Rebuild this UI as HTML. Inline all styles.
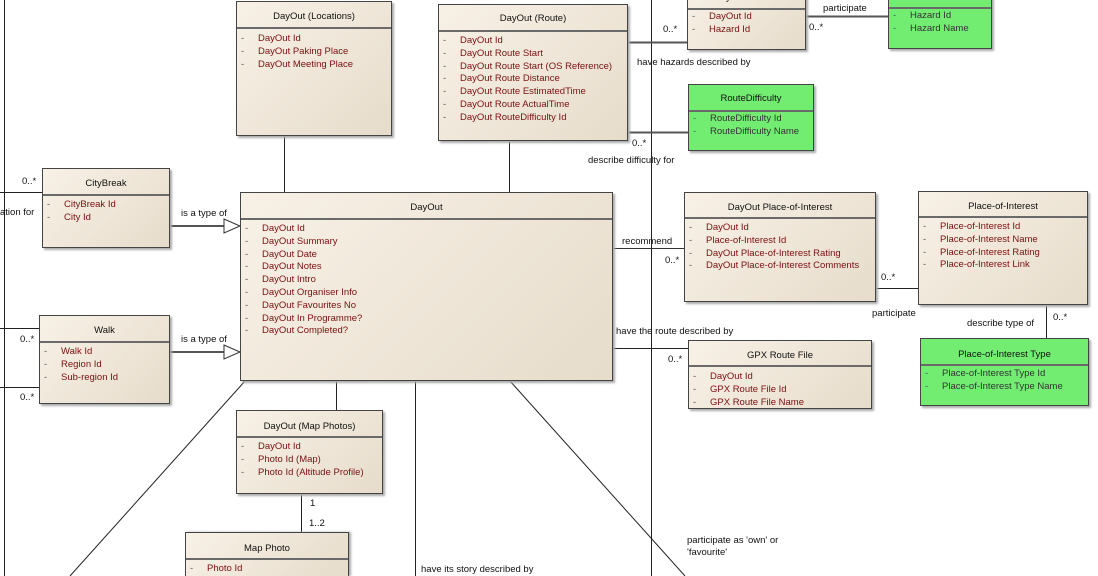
<!DOCTYPE html>
<html style="overflow:hidden;width:1098px;height:576px"><head><meta charset="utf-8"><style>
body{margin:0;width:1098px;height:576px;overflow:hidden;background:#fff;font-family:"Liberation Sans",sans-serif;font-size:9.5px;position:relative}
.b{position:absolute;border:1px solid #444;background:linear-gradient(135deg,#f8f1e6,#e6dccb);box-shadow:2px 2px 2px #aaa;box-sizing:border-box;overflow:hidden}
.g{background:#72ed72}
.t{text-align:center;color:#111;border-bottom:2px solid #6a6a6a;box-sizing:border-box}
.i{position:relative;color:#7a1010;padding-left:21px;line-height:12.8px;white-space:nowrap}
.g .i{color:#333}
.i:before{content:"-";position:absolute;left:4px;color:#555}
.l{position:absolute;color:#111;white-space:nowrap;font-size:9.5px}
svg{position:absolute;left:0;top:0}
</style></head><body>
<svg width="1098" height="576" stroke="#222" stroke-width="1" fill="none">
<line x1="4.5" y1="0" x2="4.5" y2="576"/>
<line x1="0" y1="192.5" x2="42" y2="192.5"/>
<line x1="0" y1="328.5" x2="39" y2="328.5"/>
<line x1="0" y1="387.5" x2="39" y2="387.5"/>
<line x1="651.5" y1="0" x2="651.5" y2="576"/>
<line x1="284.5" y1="136" x2="284.5" y2="192"/>
<line x1="509.5" y1="141" x2="509.5" y2="192"/>
<line x1="628" y1="42.5" x2="687" y2="42.5" stroke="#555" stroke-width="2"/>
<line x1="628" y1="132.5" x2="688" y2="132.5" stroke="#555" stroke-width="2"/>
<line x1="806" y1="16.5" x2="888" y2="16.5" stroke="#555" stroke-width="2"/>
<line x1="170" y1="226" x2="224" y2="226" stroke="#555" stroke-width="2"/>
<polygon points="224,219 240,226 224,233" fill="#fff" stroke="#333"/>
<line x1="170" y1="352" x2="224" y2="352" stroke="#555" stroke-width="2"/>
<polygon points="224,345 240,352 224,359" fill="#fff" stroke="#333"/>
<line x1="613" y1="248.5" x2="684" y2="248.5" stroke="#333"/>
<line x1="876" y1="288.5" x2="918" y2="288.5"/>
<line x1="1046.5" y1="305" x2="1046.5" y2="338"/>
<line x1="613" y1="348.5" x2="688" y2="348.5"/>
<line x1="336.5" y1="381" x2="336.5" y2="410"/>
<line x1="301.5" y1="494" x2="301.5" y2="532"/>
<line x1="415.5" y1="381" x2="415.5" y2="576"/>
<line x1="245" y1="381" x2="70" y2="576"/>
<line x1="510" y1="381" x2="685" y2="576"/>
</svg>

<div class="b" style="left:236px;top:1px;width:156px;height:135px"><div class="t" style="height:27px;line-height:30px">DayOut (Locations)</div><div style="padding-top:4px"><div class="i">DayOut Id</div><div class="i">DayOut Paking Place</div><div class="i">DayOut Meeting Place</div></div></div>

<div class="b" style="left:438px;top:4px;width:190px;height:137px"><div class="t" style="height:27px;line-height:28px">DayOut (Route)</div><div style="padding-top:3px"><div class="i">DayOut Id</div><div class="i">DayOut Route Start</div><div class="i">DayOut Route Start (OS Reference)</div><div class="i">DayOut Route Distance</div><div class="i">DayOut Route EstimatedTime</div><div class="i">DayOut Route ActualTime</div><div class="i">DayOut RouteDifficulty Id</div></div></div>

<div class="b" style="left:687px;top:-18px;width:119px;height:68px"><div class="t" style="height:27px;line-height:30px">DayOut Hazard</div><div style="padding-top:1px"><div class="i">DayOut Id</div><div class="i">Hazard Id</div></div></div>

<div class="b g" style="left:888px;top:-18px;width:104px;height:67px"><div class="t" style="height:26px;line-height:30px">Hazard</div><div style="padding-top:1px"><div class="i">Hazard Id</div><div class="i">Hazard Name</div></div></div>

<div class="b g" style="left:688px;top:84px;width:126px;height:67px"><div class="t" style="height:27px;line-height:28px">RouteDifficulty</div><div style="padding-top:1px"><div class="i">RouteDifficulty Id</div><div class="i">RouteDifficulty Name</div></div></div>

<div class="b" style="left:42px;top:168px;width:128px;height:80px"><div class="t" style="height:27px;line-height:29px">CityBreak</div><div style="padding-top:3px"><div class="i">CityBreak Id</div><div class="i">City Id</div></div></div>

<div class="b" style="left:240px;top:192px;width:373px;height:189px"><div class="t" style="height:27px;line-height:30px">DayOut</div><div style="padding-top:3px"><div class="i">DayOut Id</div><div class="i">DayOut Summary</div><div class="i">DayOut Date</div><div class="i">DayOut Notes</div><div class="i">DayOut Intro</div><div class="i">DayOut Organiser Info</div><div class="i">DayOut Favourites No</div><div class="i">DayOut In Programme?</div><div class="i">DayOut Completed?</div></div></div>

<div class="b" style="left:684px;top:192px;width:192px;height:110px"><div class="t" style="height:26px;line-height:29px">DayOut Place-of-Interest</div><div style="padding-top:3px"><div class="i">DayOut Id</div><div class="i">Place-of-Interest Id</div><div class="i">DayOut Place-of-Interest Rating</div><div class="i">DayOut Place-of-Interest Comments</div></div></div>

<div class="b" style="left:918px;top:191px;width:170px;height:114px"><div class="t" style="height:26px;line-height:29px">Place-of-Interest</div><div style="padding-top:3px"><div class="i">Place-of-Interest Id</div><div class="i">Place-of-Interest Name</div><div class="i">Place-of-Interest Rating</div><div class="i">Place-of-Interest Link</div></div></div>

<div class="b g" style="left:920px;top:338px;width:169px;height:68px"><div class="t" style="height:27px;line-height:32px">Place-of-Interest Type</div><div style="padding-top:2px"><div class="i">Place-of-Interest Type Id</div><div class="i">Place-of-Interest Type Name</div></div></div>

<div class="b" style="left:688px;top:340px;width:184px;height:69px"><div class="t" style="height:26px;line-height:30px">GPX Route File</div><div style="padding-top:4px"><div class="i">DayOut Id</div><div class="i">GPX Route File Id</div><div class="i">GPX Route File Name</div></div></div>

<div class="b" style="left:39px;top:315px;width:131px;height:89px"><div class="t" style="height:27px;line-height:30px">Walk</div><div style="padding-top:3px"><div class="i">Walk Id</div><div class="i">Region Id</div><div class="i">Sub-region Id</div></div></div>

<div class="b" style="left:236px;top:410px;width:147px;height:84px"><div class="t" style="height:27px;line-height:31px">DayOut (Map Photos)</div><div style="padding-top:3px"><div class="i">DayOut Id</div><div class="i">Photo Id (Map)</div><div class="i">Photo Id (Altitude Profile)</div></div></div>

<div class="b" style="left:185px;top:532px;width:164px;height:44px;border-bottom:none;box-shadow:2px 0 2px #aaa"><div class="t" style="height:27px;line-height:31px">Map Photo</div><div style="padding-top:3px"><div class="i">Photo Id</div></div></div>

<div class="l" style="left:0;top:207px">ation for</div>
<div class="l" style="left:22px;top:176px">0..*</div>
<div class="l" style="left:20px;top:334px">0..*</div>
<div class="l" style="left:20px;top:392px">0..*</div>
<div class="l" style="left:181px;top:208px">is a type of</div>
<div class="l" style="left:181px;top:334px">is a type of</div>
<div class="l" style="left:663px;top:24px">0..*</div>
<div class="l" style="left:637px;top:57px">have hazards described by</div>
<div class="l" style="left:632px;top:138px">0..*</div>
<div class="l" style="left:588px;top:155px">describe difficulty for</div>
<div class="l" style="left:823px;top:3px">participate</div>
<div class="l" style="left:809px;top:22px">0..*</div>
<div class="l" style="left:622px;top:236px">recommend</div>
<div class="l" style="left:665px;top:255px">0..*</div>
<div class="l" style="left:881px;top:272px">0..*</div>
<div class="l" style="left:872px;top:308px">participate</div>
<div class="l" style="left:967px;top:318px">describe type of</div>
<div class="l" style="left:1053px;top:312px">0..*</div>
<div class="l" style="left:616px;top:326px">have the route described by</div>
<div class="l" style="left:668px;top:354px">0..*</div>
<div class="l" style="left:310px;top:498px">1</div>
<div class="l" style="left:309px;top:518px">1..2</div>
<div class="l" style="left:421px;top:564px">have its story described by</div>
<div class="l" style="left:687px;top:535px">participate as 'own' or</div>
<div class="l" style="left:687px;top:547px">'favourite'</div>
</body></html>
